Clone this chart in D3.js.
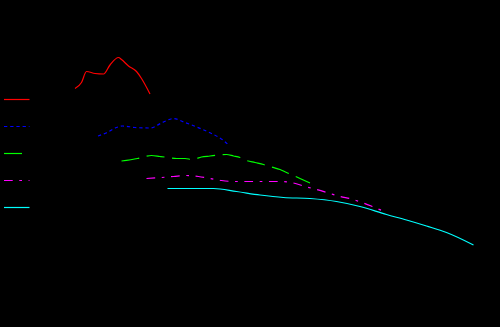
<!DOCTYPE html>
<html>
<head>
<meta charset="utf-8">
<script src="https://cdn.jsdelivr.net/npm/d3@7"></script>
<style>
  html, body { margin: 0; padding: 0; background: #000; }
  svg { display: block; }
</style>
</head>
<body>
<div id="chart"></div>
<script>
// series values (x, y in data units)
var redX = [0, 1.3, 2.3, 4, 5.7, 7, 8.7, 9.3, 10.7, 12.3, 13.3, 15];
var redY = [35.3, 36.5, 38.7, 38.3, 38.2, 40, 41.5, 41.1, 39.8, 38.7, 37.3, 34.2];

var blueX = [4.6, 6.2, 8.3, 9.5, 12, 15, 17.5, 19.7, 22, 25.3, 27.5, 29.7, 30.7];
var blueY = [25.8, 26.4, 27.5, 27.8, 27.5, 27.4, 28.5, 29.3, 28.5, 27.2, 26.2, 24.9, 24];

var greenX = [9.3, 12.5, 14, 15.3, 17, 18.7, 20.3, 22, 23.5, 25.3, 27, 28.7, 30.3, 31.7, 33, 34.3, 36, 37.7, 39.3, 41, 42.3, 43.7, 45, 47];
var greenY = [20.8, 21.3, 21.7, 21.9, 21.7, 21.5, 21.3, 21.3, 21.1, 21.6, 21.8, 22, 22.1, 21.8, 21.5, 20.9, 20.5, 20.1, 19.6, 19.1, 18.5, 17.9, 17.3, 16.4];

var magentaX = [14.3, 17.3, 19.7, 22.3, 24.7, 27, 29.3, 32, 34.3, 36.7, 39, 41.3, 43.7, 46, 48.3, 50.7, 53, 55.3, 57.7, 59.7, 62.3];
var magentaY = [17.3, 17.5, 17.7, 17.9, 17.7, 17.3, 16.9, 16.7, 16.7, 16.7, 16.7, 16.7, 16.4, 15.7, 15.1, 14.4, 13.7, 13.2, 12.4, 11.6, 10.5];

var cyanX = [18.5, 27.7, 32.3, 37, 41.7, 47, 52.3, 57, 62.3, 66.3, 70.3, 74.3, 79.7];
var cyanY = [15.3, 15.3, 14.7, 14, 13.5, 13.3, 12.7, 11.7, 10.1, 9, 7.8, 6.5, 4];

var seriesNames = ["red", "blue", "green", "magenta", "cyan"];

var width = 500
  , height = 327;

var series = [
  { name: seriesNames[0], xs: redX, ys: redY, color: "#ff0000", dash: null },
  { name: seriesNames[1], xs: blueX, ys: blueY, color: "#0000ff", dash: "3.3,2.9" },
  { name: seriesNames[2], xs: greenX, ys: greenY, color: "#00ff00", dash: "18,7.6" },
  { name: seriesNames[3], xs: magentaX, ys: magentaY, color: "#ff00ff", dash: "8.7,6.6,2.7,6.6" },
  { name: seriesNames[4], xs: cyanX, ys: cyanY, color: "#00ffff", dash: null }
];

var svg = d3.select("#chart").append("svg")
    .attr("width", width)
    .attr("height", height)
    .style("background", "#000");

// scales
var x = d3.scaleLinear().domain([0, 80]).range([75, 475]);
var y = d3.scaleLinear().domain([0, 42]).range([265, 55]);

var line = d3.line()
    .x(function(d){ return x(d[0]); })
    .y(function(d){ return y(d[1]); })
    .curve(d3.curveMonotoneX);

svg.append("g").attr("class", "lines")
  .selectAll("path")
  .data(series)
 .enter().append("path")
  .attr("d", function(s){ return line(d3.zip(s.xs, s.ys)); })
  .attr("fill", "none")
  .attr("stroke", function(s){ return s.color; })
  .attr("stroke-width", 1.2)
  .attr("stroke-dasharray", function(s){ return s.dash; });

// legend
var legendY = d3.scalePoint().domain(seriesNames).range([99.5, 207.5]);

svg.append("g").attr("class", "legend")
  .selectAll("line")
  .data(series)
 .enter().append("line")
  .attr("x1", 4)
  .attr("x2", 29.5)
  .attr("y1", function(s){ return legendY(s.name); })
  .attr("y2", function(s){ return legendY(s.name); })
  .attr("stroke", function(s){ return s.color; })
  .attr("stroke-width", 1.2)
  .attr("stroke-dasharray", function(s){ return s.dash; });
</script>
</body>
</html>
